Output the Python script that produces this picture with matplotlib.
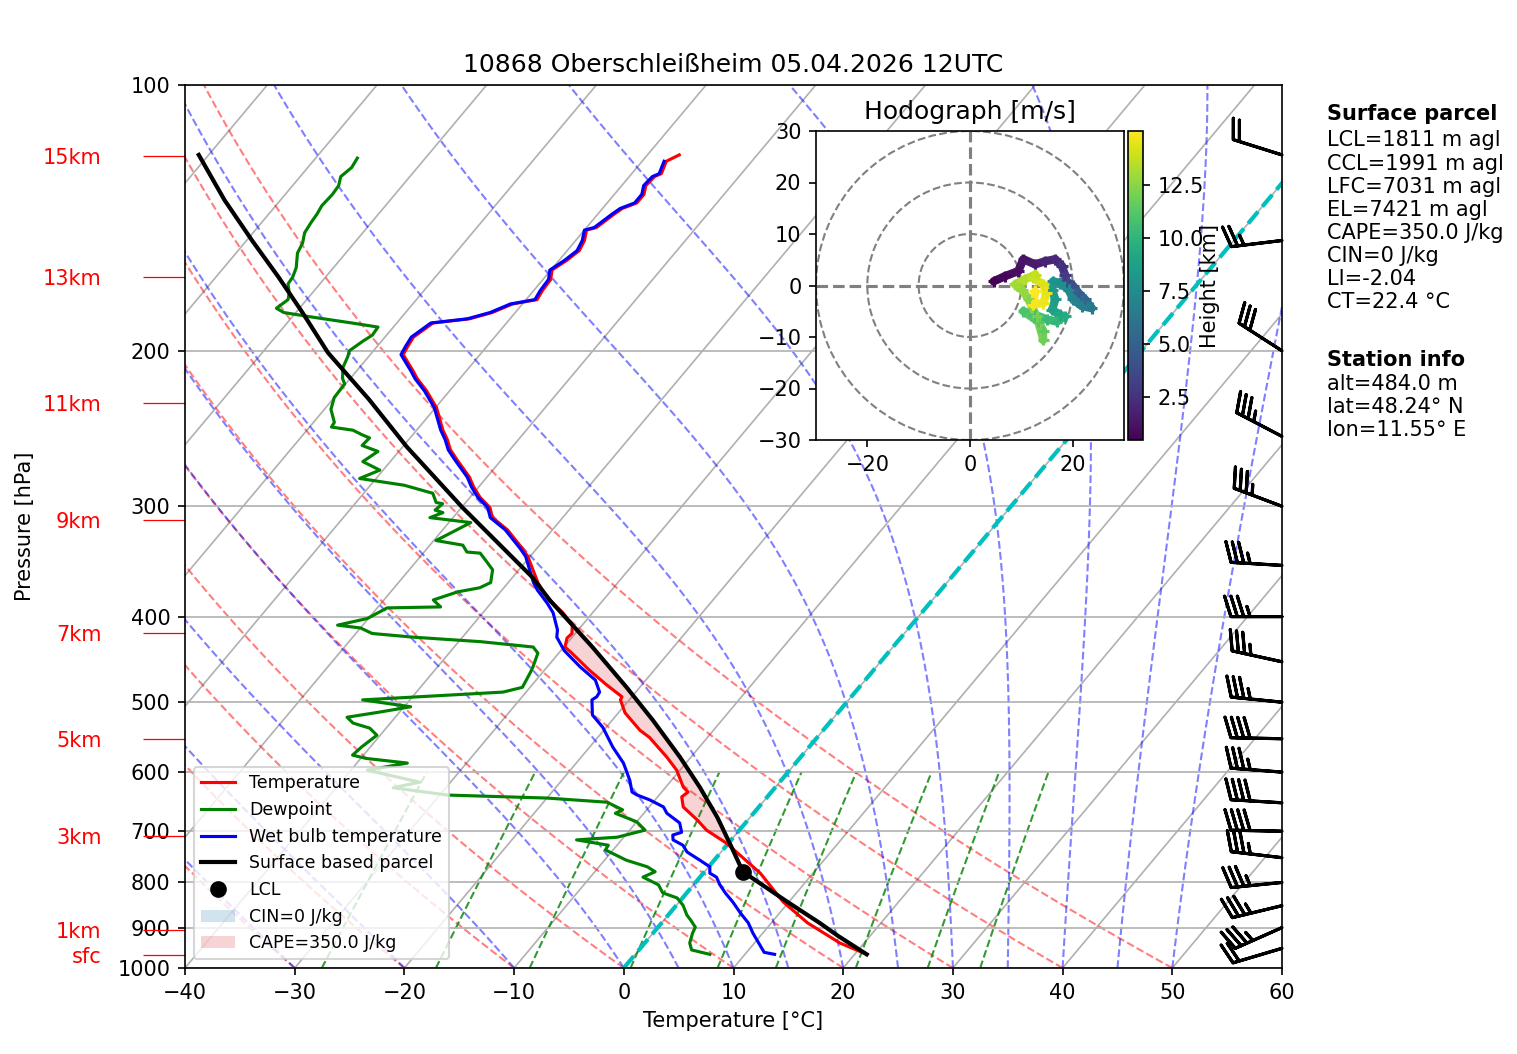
import numpy as np
import matplotlib
matplotlib.use("Agg")
import matplotlib.pyplot as plt
import matplotlib.transforms as mtransforms
from matplotlib.collections import LineCollection
from matplotlib.patches import Circle, Patch
from matplotlib.ticker import FixedLocator, FixedFormatter
from matplotlib.colors import Normalize

title = "10868 Oberschleißheim 05.04.2026 12UTC"

# sounding (hPa, degC)
temp_p = [965, 937, 889, 842, 799, 781, 722, 698, 680, 657, 640, 632, 624, 597, 577,
          548, 538, 514, 497, 493, 478, 460, 440, 433, 423, 418, 409, 396, 386, 375,
          366, 342, 335, 319, 309, 301, 293, 285, 278, 266, 259, 252, 246, 238, 232,
          222, 215, 211, 202, 198, 193, 188, 186, 184, 181, 177, 175, 171, 166, 162,
          158, 154, 150, 146, 145, 140, 138, 136, 133, 130, 127, 126, 122, 120]
temp_c = [21.1, 17.8, 13.3, 9.5, 6.5, 5.2, -0.2, -3.0, -4.6, -6.9, -7.8, -7.6, -8.4, -10.3, -12.2,
          -15.3, -16.7, -19.4, -20.8, -20.9, -23.2, -25.9, -28.8, -29.9, -30.4, -30.3, -30.9, -32.7, -34.4, -36.1,
          -37.3, -40.2, -41.3, -44.1, -46.4, -47.4, -49.1, -50.5, -51.6, -54.0, -55.4, -56.5, -57.6, -58.9, -59.9,
          -62.1, -63.9, -64.8, -67.0, -67.2, -67.4, -66.9, -66.7, -63.7, -62.1, -60.9, -59.0, -59.2, -59.3, -59.9,
          -59.3, -58.9, -59.2, -59.8, -59.1, -58.5, -58.2, -57.3, -57.3, -57.8, -57.7, -57.3, -57.8, -57.1]

dewp_p = [965, 954, 937, 913, 899, 882, 871, 849, 833, 822, 805, 789, 778, 768, 755,
          735, 726, 716, 711, 698, 683, 668, 662, 649, 642, 637, 625, 616, 597, 586,
          579, 574, 562, 545, 535, 528, 520, 513, 506, 497, 491, 487, 481, 463, 456,
          440, 433, 427, 422, 418, 412, 409, 402, 391, 390, 383, 375, 371, 366, 354,
          347, 339, 338, 332, 328, 323, 313, 309, 305, 303, 298, 297, 290, 284, 279,
          273, 267, 260, 256, 251, 249, 246, 244, 241, 233, 226, 218, 215, 209, 203,
          200, 195, 192, 188, 186, 183, 181, 179, 175, 172, 168, 165, 161, 155, 151,
          147, 143, 140, 137, 133, 130, 127, 124, 121]
dewp_c = [6.8, 4.8, 4.1, 3.6, 3.4, 2.4, 1.7, 0.6, -0.5, -2.2, -3.2, -5.2, -4.5, -5.6, -8.0,
          -10.7, -10.8, -14.1, -10.6, -8.6, -10.0, -12.6, -12.2, -14.2, -20.0, -29.3, -34.8, -32.8, -38.5, -35.4,
          -39.5, -41.0, -40.8, -40.3, -41.5, -43.4, -44.4, -41.8, -39.4, -44.3, -37.0, -32.1, -30.7, -31.1, -31.3,
          -31.9, -32.8, -38.0, -44.5, -48.5, -50.0, -52.3, -50.1, -49.1, -44.3, -45.5, -43.9, -42.2, -41.6, -42.4,
          -43.5, -44.8, -46.1, -47.0, -49.8, -49.2, -48.0, -52.1, -51.3, -52.2, -52.0, -52.7, -53.7, -56.9, -61.5,
          -60.3, -62.5, -61.9, -63.8, -63.7, -64.6, -65.8, -68.0, -68.1, -69.4, -70.0, -70.1, -70.7, -71.5, -71.9,
          -72.2, -71.7, -71.3, -71.4, -74.1, -78.4, -81.1, -82.1, -81.7, -82.1, -82.9, -83.0, -83.4, -84.4, -84.7,
          -85.3, -85.5, -85.6, -85.8, -85.7, -85.8, -86.3, -86.0, -86.2]

wetb_p = [965, 960, 913, 889, 866, 842, 822, 805, 789, 781, 768, 755, 739, 726, 716,
          707, 702, 685, 668, 657, 645, 637, 632, 613, 600, 586, 562, 534, 517, 497,
          493, 487, 472, 456, 437, 422, 414, 396, 386, 373, 366, 342, 335, 319, 309,
          301, 293, 285, 278, 266, 259, 252, 246, 238, 232, 222, 215, 211, 202, 198,
          193, 188, 186, 184, 181, 177, 175, 171, 166, 162, 158, 154, 150, 146, 145,
          140, 138, 136, 133, 130, 127, 126, 122]
wetb_c = [12.7, 11.6, 9.1, 7.9, 6.4, 4.9, 3.5, 2.4, 1.5, 0.6, 0.1, -1.3, -3.1, -4.0, -5.3,
          -5.7, -5.1, -6.0, -7.9, -8.7, -10.5, -12.0, -12.7, -13.8, -14.7, -15.7, -17.9, -20.3, -22.2, -23.4,
          -23.2, -23.3, -24.6, -27.0, -29.7, -31.4, -31.9, -33.6, -34.9, -36.8, -37.7, -40.4, -41.5, -44.3, -46.6,
          -47.6, -49.3, -50.7, -51.8, -54.2, -55.6, -56.7, -57.8, -59.1, -60.1, -62.3, -64.1, -65.0, -67.2, -67.4,
          -67.6, -67.1, -66.9, -63.9, -62.3, -61.1, -59.2, -59.4, -59.5, -60.1, -59.5, -59.1, -59.4, -60.0, -59.3,
          -58.7, -58.4, -57.5, -57.5, -58.0, -57.9, -57.5, -58.0]

parcel_p = [965, 920, 889, 840, 778, 722, 675, 624, 577, 524, 481, 433, 383, 361, 301,
            257, 227, 201, 181, 165, 150, 135, 120]
parcel_c = [21.1, 17.1, 14.4, 9.7, 3.5, 0.1, -3.0, -6.9, -11.0, -16.3, -21.2, -27.4, -34.9, -38.2, -49.9,
            -59.6, -66.7, -74.0, -79.4, -84.3, -89.5, -95.1, -100.9]
lcl_p, lcl_c = 778, 3.5

# wind barbs (knots)
barb_p = [120, 150, 200, 250, 300, 350, 400, 450, 500, 550, 600, 650, 700, 750, 800, 850, 900, 950]
barb_u = [19.1, 24.8, 25.2, 31.0, 32.7, 34.9, 35.0, 34.2, 34.8, 40.0, 34.9, 39.9, 40.0, 34.8, 34.8, 34.0, 32.0, 19.2]
barb_v = [-6.0, 3.0, -16.2, -16.2, -12.3, -2.1, 0.0, -7.5, -3.5, -0.8, -2.7, -2.4, -0.8, -4.1, 3.5, 8.2, 14.2, 5.7]

# height marks on the left
height_p = [120.3, 165, 229, 311, 417.4, 550.4, 708.6, 905.6, 966.6]
height_lbl = ["15km", "13km", "11km", "9km", "7km", "5km", "3km", "1km", "sfc"]

# hodograph (m/s, km)
hodo_u = [4.6, 6.8, 9.4, 10.4, 12.7, 14.6, 16.6, 17.9, 18.5, 18.8, 20.1, 21.1, 22.4, 23.7, 21.8,
          20.1, 19.2, 17.5, 16.2, 16.0, 16.6, 16.0, 17.5, 18.5, 16.9, 15.0, 12.7, 10.4, 13.3, 14.3,
          14.3, 13.0, 11.4, 10.1, 8.8, 10.7, 12.7, 12.3, 14.3, 14.9, 14.3, 12.3, 12.7]
hodo_v = [0.8, 1.8, 2.8, 5.1, 4.1, 4.7, 5.1, 3.8, 2.1, 0.8, -0.1, -1.4, -2.7, -4.4, -4.0,
          -2.7, -0.8, 0.5, 0.8, -0.8, -2.7, -4.7, -5.7, -6.0, -7.0, -6.6, -5.7, -5.0, -7.0, -8.9,
          -10.5, -6.0, -2.7, -0.8, 0.2, 1.2, 2.1, 1.5, 0.2, -1.4, -3.4, -3.7, -1.1]
hodo_h = [0.48, 0.7, 1.0, 1.2, 1.5, 1.8, 2.1, 2.5, 2.9, 3.4, 4.0, 4.6, 5.3, 6.2, 6.7,
          7.0, 7.3, 7.6, 7.9, 8.2, 8.5, 8.8, 9.1, 9.4, 10.0, 10.3, 10.6, 10.9, 11.2, 11.5,
          11.8, 12.1, 12.4, 12.7, 13.0, 13.3, 13.6, 13.9, 14.2, 14.5, 14.7, 14.85, 15.05]

parcel_info = ["LCL=1811 m agl", "CCL=1991 m agl", "LFC=7031 m agl", "EL=7421 m agl",
               "CAPE=350.0 J/kg", "CIN=0 J/kg", "LI=-2.04", "CT=22.4 °C"]
station_info = ["alt=484.0 m", "lat=48.24° N", "lon=11.55° E"]

mix_ratios = [0.0004, 0.001, 0.002, 0.004, 0.007, 0.01, 0.016, 0.024, 0.032]


def moist_adiabats(t0, p):
    # RK4 on the saturated lapse rate, p in hPa going up
    Rd, Cp, Lv, eps = 287.04749, 1004.6662, 2.50084e6, 0.6219569

    def rate(T, pp):
        es = 6.112 * np.exp(17.67 * (T - 273.15) / (T - 29.65))
        rs = eps * es / (pp - es)
        return (Rd * T + Lv * rs) / (Cp + Lv * Lv * rs * eps / (Rd * T * T)) / pp

    T = np.asarray(t0, float) + 273.15
    out = [T]
    for i in range(1, len(p)):
        h = p[i] - p[i - 1]
        k1 = rate(T, p[i - 1])
        k2 = rate(T + h / 2 * k1, p[i - 1] + h / 2)
        k3 = rate(T + h / 2 * k2, p[i - 1] + h / 2)
        k4 = rate(T + h * k3, p[i])
        T = T + h / 6 * (k1 + 2 * k2 + 2 * k3 + k4)
        out.append(T)
    return np.array(out) - 273.15


fig = plt.figure(figsize=(1517 / 150, 1054 / 150), dpi=150)
ax = fig.add_axes([185 / 1517, 86 / 1054, 1097 / 1517, 883 / 1054])
ax.set_yscale("log")
ax.set_xlim(-40, 60)
ax.set_ylim(1000, 100)

# skew-T transform: shear in axes coordinates
skew = ax.transScale + (ax.transLimits + mtransforms.Affine2D().skew(np.arctan(0.675), 0)) + ax.transAxes

for t in range(-120, 61, 10):
    ax.plot([t, t], [1000, 100], color="#b0b0b0", lw=0.8, transform=skew, zorder=0.6)
ax.grid(True, axis="y", which="major", color="#b0b0b0", lw=0.8)

plev = np.logspace(3, 2, 181)
dry = [np.column_stack([(t0 + 273.15) * (plev / 1000.0) ** 0.2857 - 273.15, plev])
       for t0 in np.arange(-40, 51, 10)]
ax.add_collection(LineCollection(dry, colors="r", linestyles="dashed", linewidths=1, alpha=0.5,
                                 transform=skew, zorder=1), autolim=False)

t0_moist = np.concatenate([np.arange(-40, 0, 10), np.arange(0, 51, 5)])
tm = moist_adiabats(t0_moist, plev)
moist = [np.column_stack([tm[:, i], plev]) for i in range(len(t0_moist))]
ax.add_collection(LineCollection(moist, colors="b", linestyles="dashed", linewidths=1, alpha=0.5,
                                 transform=skew, zorder=1), autolim=False)

pm = np.linspace(1000, 600, 41)
mix = []
for w in mix_ratios:
    le = np.log(pm * w / (0.622 + w) / 6.112)
    mix.append(np.column_stack([243.5 * le / (17.67 - le), pm]))
ax.add_collection(LineCollection(mix, colors="g", linestyles="dashed", linewidths=1, alpha=0.8,
                                 transform=skew, zorder=1), autolim=False)

ax.plot([0, 0], [1000, 100], color="c", ls="--", lw=2, transform=skew, zorder=2)

# CAPE shading between LFC and EL
pg = np.logspace(np.log10(725), np.log10(395), 120)
tg = np.interp(np.log(pg), np.log(temp_p[::-1]), temp_c[::-1])
pcg = np.interp(np.log(pg), np.log(parcel_p[::-1]), parcel_c[::-1])
ax.fill_betweenx(pg, tg, pcg, where=pcg >= tg, interpolate=True, color="tab:red", alpha=0.2,
                 linewidth=0, transform=skew, zorder=2.5)

ax.plot(temp_c, temp_p, color="r", lw=1.5, label="Temperature", transform=skew, zorder=3)
ax.plot(dewp_c, dewp_p, color="g", lw=1.5, label="Dewpoint", transform=skew, zorder=3)
ax.plot(wetb_c, wetb_p, color="b", lw=1.5, label="Wet bulb temperature", transform=skew, zorder=3)
ax.plot(parcel_c, parcel_p, color="k", lw=2, label="Surface based parcel", transform=skew, zorder=4)
ax.plot([lcl_c], [lcl_p], "ko", ms=7, label="LCL", transform=skew, zorder=5)

handles, labels = ax.get_legend_handles_labels()
handles += [Patch(facecolor="tab:blue", alpha=0.2), Patch(facecolor="tab:red", alpha=0.2)]
labels += ["CIN=0 J/kg", "CAPE=350.0 J/kg"]
ax.legend(handles, labels, loc="lower left", fontsize="small")

btr = mtransforms.blended_transform_factory(ax.transAxes, ax.transData)
ax.barbs(np.ones(len(barb_p)), barb_p, barb_u, barb_v, transform=btr, clip_on=False,
         length=7, linewidth=1.5, zorder=6)

ax.yaxis.set_major_locator(FixedLocator(list(range(100, 1001, 100))))
ax.yaxis.set_major_formatter(FixedFormatter([str(v) for v in range(100, 1001, 100)]))
ax.yaxis.set_minor_locator(FixedLocator(height_p))
ax.yaxis.set_minor_formatter(FixedFormatter(height_lbl))
ax.tick_params(axis="y", which="minor", length=20, width=0.6, color="red", labelcolor="red", pad=20)
ax.set_xticks(range(-40, 61, 10))
ax.set_xlabel("Temperature [°C]")
ax.set_ylabel("Pressure [hPa]")
ax.set_title(title)

# right hand text
fig.text(1327 / 1517, 1 - 120 / 1054, "Surface parcel", weight="bold", va="baseline")
for i, s in enumerate(parcel_info):
    fig.text(1327 / 1517, 1 - (146.5 + 23.1 * i) / 1054, s, va="baseline")
fig.text(1327 / 1517, 1 - 366.5 / 1054, "Station info", weight="bold", va="baseline")
for i, s in enumerate(station_info):
    fig.text(1327 / 1517, 1 - (389.5 + 23.1 * i) / 1054, s, va="baseline")

# hodograph inset
hax = fig.add_axes([816 / 1517, 614 / 1054, 308 / 1517, 309 / 1054])
hax.set_xlim(-30, 30)
hax.set_ylim(-30, 30)
for r in (10, 20, 30):
    hax.add_patch(Circle((0, 0), r, fill=False, ec="grey", ls="--", lw=1))
hax.axhline(0, color="grey", ls="--", lw=1.5)
hax.axvline(0, color="grey", ls="--", lw=1.5)
norm = Normalize(min(hodo_h), max(hodo_h))
pts = np.column_stack([hodo_u, hodo_v])
segs = np.stack([pts[:-1], pts[1:]], axis=1)
lc = LineCollection(segs, cmap="viridis", norm=norm, linewidths=4, capstyle="round")
lc.set_array(np.array(hodo_h[1:]))
hax.add_collection(lc)
sc = hax.scatter(hodo_u, hodo_v, c=hodo_h, cmap="viridis", norm=norm, marker="+", s=30,
                 linewidths=1.5, zorder=3)
hax.set_xticks([-20, 0, 20])
hax.set_yticks(range(-30, 31, 10))
hax.set_title("Hodograph [m/s]")
cax = fig.add_axes([1128 / 1517, 614 / 1054, 15 / 1517, 309 / 1054])
cb = fig.colorbar(sc, cax=cax)
cb.set_ticks([2.5, 5.0, 7.5, 10.0, 12.5])
cb.set_label("Height [km]", labelpad=-2)

fig.savefig("out.png", dpi=150)
